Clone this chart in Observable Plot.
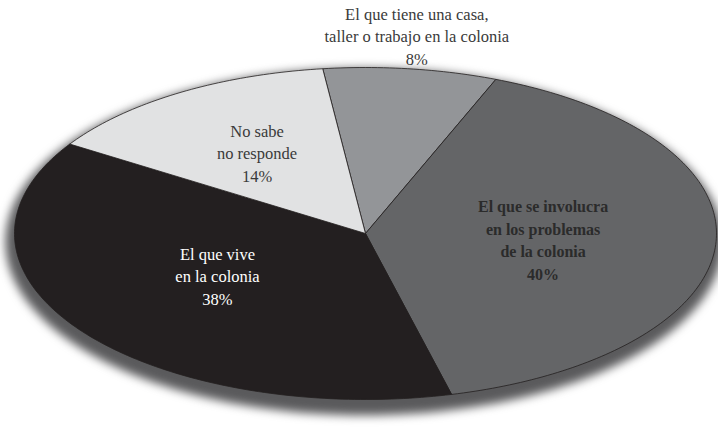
<!DOCTYPE html>
<html>
<head>
<meta charset="utf-8">
<script src="https://cdn.jsdelivr.net/npm/d3@7"></script>
<script src="https://cdn.jsdelivr.net/npm/@observablehq/plot@0.6"></script>
<style>
  html, body { margin: 0; padding: 0; background: #ffffff; }
  #chart { width: 718px; height: 432px; }
  #chart text, #chart tspan { font-family: "Liberation Serif", serif; }
</style>
</head>
<body>
<div id="chart"></div>
<script>
// ---- data ----
const categories = [
  "El que tiene una casa,\ntaller o trabajo en la colonia",
  "El que se involucra\nen los problemas\nde la colonia",
  "El que vive\nen la colonia",
  "No sabe\nno responde"
];
const values = [8, 40, 38, 14];
const sliceColors = ["#939598", "#646567", "#231f20", "#e1e2e3"];
const labelColors = ["#3a3a3a", "#2b2b2b", "#ffffff", "#3a3a3a"];

// ---- geometry (pie in unit ellipse coordinates) ----
const startDeg = -7;            // rotation of the first slice (clockwise from top)
const labelRadius = [1.205, 0.49, 0.52, 0.58];
const labelShift = [[-0.009, 0], [0.017, 0], [0, 0.054], [0, 0]];
const total = d3.sum(values);
const rad = Math.PI / 180;
const serif = "Liberation Serif";

const slicePts = [];
const labels = [];
let a0 = startDeg;
values.forEach((v, i) => {
  const span = v / total * 360;
  const a1 = a0 + span;
  slicePts.push({slice: i, x: 0, y: 0, fill: sliceColors[i]});
  const n = Math.max(2, Math.ceil(span));
  for (let k = 0; k <= n; k++) {
    const a = (a0 + span * k / n) * rad;
    slicePts.push({slice: i, x: Math.sin(a), y: Math.cos(a), fill: sliceColors[i]});
  }
  slicePts.push({slice: i, x: 0, y: 0, fill: sliceColors[i]});
  const m = (a0 + span / 2) * rad;
  labels.push({
    i,
    x: labelRadius[i] * Math.sin(m) + labelShift[i][0],
    y: labelRadius[i] * Math.cos(m) + labelShift[i][1],
    text: categories[i] + "\n" + values[i] + "%",
    color: labelColors[i]
  });
  a0 = a1;
});

// shadow ellipse
const shadowPts = d3.range(0, 361, 2).map(d => ({
  x: -0.004 + 1.022 * Math.sin(d * rad),
  y: -0.05 + 1.045 * Math.cos(d * rad)
}));

const chart = Plot.plot({
  width: 718,
  height: 432,
  marginLeft: 14,
  marginRight: 2,
  marginTop: 67,
  marginBottom: 33,
  x: {domain: [-1, 1], axis: null},
  y: {domain: [-1, 1], axis: null},
  color: {type: "identity"},
  style: {fontFamily: serif, background: "#ffffff"},
  marks: [
    Plot.line(shadowPts, {x: "x", y: "y", fill: "#5a5a5c", stroke: "none", curve: "linear-closed", imageFilter: "blur(5px)"}),
    Plot.line(slicePts, {x: "x", y: "y", z: "slice", fill: "fill", stroke: "#231f20", strokeWidth: 0.8, strokeLinejoin: "round"}),
    Plot.text(labels, {filter: d => d.i !== 1, x: "x", y: "y", text: "text", fill: "color", fontFamily: serif, fontSize: 16.5, lineHeight: 1.38}),
    Plot.text(labels, {filter: d => d.i === 1, x: "x", y: "y", text: "text", fill: "color", fontFamily: serif, fontSize: 16, fontWeight: "bold", lineHeight: 1.4})
  ]
});

chart.querySelectorAll("text").forEach(t => t.style.fontFamily = "'Liberation Serif', serif");

document.getElementById("chart").appendChild(chart);
</script>
</body>
</html>
